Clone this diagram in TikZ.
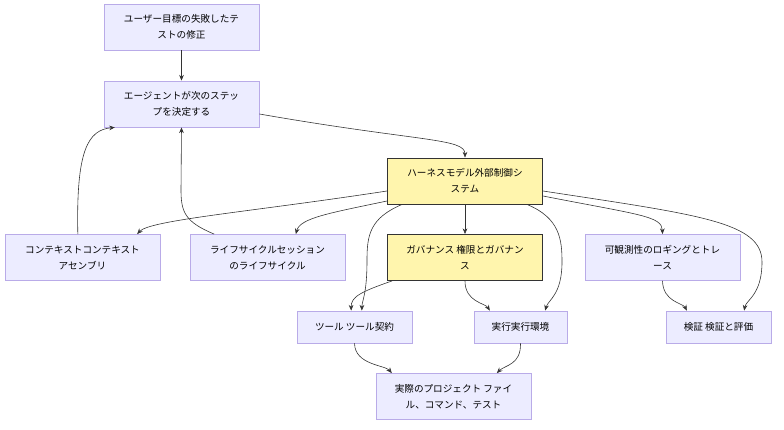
\documentclass[tikz,border=0pt]{standalone}
\usepackage{fontspec}
\setmainfont{Noto Sans CJK JP}
\usetikzlibrary{arrows.meta}
\definecolor{boxfill}{HTML}{ECECFF}
\definecolor{boxline}{HTML}{B9ABE8}
\definecolor{keyfill}{HTML}{FFF5AD}
\definecolor{keyline}{HTML}{333333}
\definecolor{edgeline}{HTML}{333333}

\begin{document}
\begin{tikzpicture}[
      x=0.03cm, y=-0.03cm,
      box/.style={draw=boxline, fill=boxfill, line width=0.7pt, minimum height=1.38cm, minimum width=4.65cm, inner sep=0pt, align=center, font=\fontsize{8.2}{13.6}\selectfont},
      key/.style={box, fill=keyfill, draw=keyline, line width=0.8pt},
      small/.style={box, minimum height=0.96cm},
      arr/.style={-{Stealth[length=1.7mm,width=1.4mm]}, draw=edgeline, line width=0.5pt},
    ]
    \useasboundingbox (0,0) rectangle (784,430);
    \node[box]   (goal)    at (181.5,27)    {ユーザー目標の失敗したテ\\ストの修正};
    \node[box]   (agent)   at (181.5,104)   {エージェントが次のステッ\\プを決定する};
    \node[key]   (harness) at (465,181)     {ハーネスモデル外部制御シ\\ステム};
    \node[box]   (context) at (82.5,257.5)  {コンテキストコンテキスト\\アセンブリ};
    \node[box]   (life)    at (267.5,257.5) {ライフサイクルセッション\\のライフサイクル};
    \node[key]   (gov)     at (465,257.5)   {ガバナンス 権限とガバナン\\ス};
    \node[box]   (obs)     at (662.5,257.5) {可観測性のロギングとトレ\\ース};
    \node[small, minimum width=3.45cm] (tools)  at (354.5,327) {ツール ツール契約};
    \node[small, minimum width=2.79cm] (exec)   at (520.5,327) {実行実行環境};
    \node[small, minimum width=3.15cm] (verify) at (718.5,327) {検証 検証と評価};
    \node[box]   (project) at (453.5,396.5) {実際のプロジェクト ファイ\\ル、コマンド、テスト};

    \draw[arr] (goal) -- (agent);
    \draw[arr] ([yshift=-3mm]agent.east) .. controls (420,142) and (465,138) .. (harness.north);
    \draw[arr] ([yshift=-3mm]harness.west) .. controls (250,212) and (150,220) .. ([xshift=16.4mm]context.north);
    \draw[arr] ([yshift=-6mm]harness.west) .. controls (330,213) and (300,218) .. ([xshift=8.5mm]life.north);
    \draw[arr] (harness) -- (gov);
    \draw[arr] ([yshift=-4.5mm]harness.east) .. controls (640,215) and (662,216) .. (obs.north);
    \draw[arr] ([yshift=-3mm]harness.east) .. controls (700,215) and (762,222) .. (762,262)
               .. controls (762,295) and (746,300) .. ([xshift=7.7mm]verify.north);
    \draw[arr] ([xshift=-18.9mm]harness.south) .. controls (370,218) and (367,235) .. (367,260)
               .. controls (367,295) and (362,300) .. ([xshift=2.2mm]tools.north);
    \draw[arr] ([xshift=-21.9mm]gov.south) .. controls (360,292) and (351,297) .. ([xshift=-1mm]tools.north);
    \draw[arr] ([xshift=18.6mm]harness.south) .. controls (560,218) and (562,240) .. (562,262)
               .. controls (562,295) and (548,300) .. ([xshift=7.4mm]exec.north);
    \draw[arr] (gov.south) .. controls (465,302) and (485,303) .. ([xshift=-9.2mm]exec.north);
    \draw[arr] (obs.south) .. controls (663,302) and (683,303) .. ([xshift=-9.5mm]verify.north);
    \draw[arr] ([xshift=-1.4mm]context.north) .. controls (76,150) and (88,130) .. ([xshift=-20mm]agent.south);
    \draw[arr] ([xshift=-16mm]life.north) .. controls (185,222) and (181,212) .. (181,190) -- (agent.south);
    \draw[arr] (tools.south) .. controls (355,365) and (385,365) .. ([xshift=-18.5mm]project.north);
    \draw[arr] (exec.south) .. controls (521,365) and (505,365) .. ([xshift=13mm]project.north);
  \end{tikzpicture}
\end{document}
